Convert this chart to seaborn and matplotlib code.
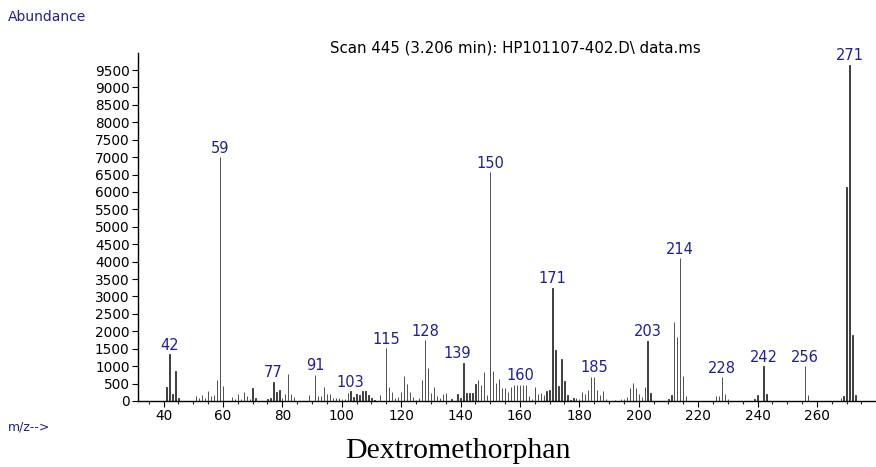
import matplotlib
matplotlib.use("Agg")
import matplotlib.pyplot as plt
import seaborn as sns
import numpy as np
import pandas as pd
from matplotlib.ticker import MultipleLocator

# ---- data (m/z and abundance) ----
mz = [41, 42, 43, 44, 45, 51, 52, 53, 54, 55, 56, 57, 58, 59, 60,
      63, 64, 65, 66, 67, 68, 69, 70, 71, 75, 76, 77, 78, 79, 80, 81, 82, 83, 84,
      89, 91, 92, 93, 94, 95, 96, 97, 98, 99, 100, 101, 102, 103, 104, 105, 106,
      107, 108, 109, 110, 111, 113, 115, 116, 117, 118, 119, 120, 121, 122, 123,
      124, 125, 126, 127, 128, 129, 130, 131, 132, 133, 134, 135, 137, 139, 140,
      141, 142, 143, 144, 145, 146, 147, 148, 149, 150, 151, 152, 153, 154, 155,
      156, 157, 158, 159, 160, 161, 162, 163, 164, 165, 166, 167, 168, 169, 170,
      171, 172, 173, 174, 175, 176, 177, 178, 179, 180, 181, 182, 183, 184, 185,
      186, 187, 188, 189, 192, 194, 195, 196, 197, 198, 199, 200, 201, 202, 203,
      204, 210, 211, 212, 213, 214, 215, 216, 226, 227, 228, 229, 230, 239, 240,
      242, 243, 256, 257, 268, 269, 270, 271, 272, 273]
abundance = [410, 1350, 200, 860, 80, 145, 90, 160, 100, 300, 145, 175, 600, 7000, 430,
             115, 70, 200, 50, 250, 145, 70, 380, 80, 50, 80, 550, 250, 310, 100, 200, 765, 200, 110,
             160, 760, 140, 140, 410, 200, 200, 80, 80, 80, 60, 50, 230, 280, 110, 200, 170,
             290, 290, 170, 90, 20, 170, 1510, 390, 260, 100, 120, 250, 720, 490, 250,
             115, 20, 90, 600, 1750, 940, 230, 390, 145, 80, 200, 230, 50, 200, 80,
             1100, 230, 230, 230, 490, 600, 450, 820, 160, 6570, 870, 520, 630, 380, 380,
             260, 410, 470, 470, 470, 470, 470, 145, 70, 400, 200, 230, 160, 290, 330,
             3250, 1460, 420, 1200, 560, 170, 30, 90, 100, 70, 270, 200, 330, 690, 700,
             320, 160, 290, 50, 20, 50, 60, 120, 380, 520, 360, 200, 120, 400, 1730,
             230, 60, 170, 2270, 1850, 4100, 720, 130, 130, 130, 690, 200, 50, 60, 160,
             1000, 200, 1000, 160, 80, 140, 6150, 9650, 1900, 170]
labeled_mz = [42, 59, 77, 91, 103, 115, 128, 139, 150, 160, 171, 185, 203, 214,
              228, 242, 256, 271]
y_ticks = list(range(0, 10000, 500))
x_ticks = list(range(40, 261, 20))

title_text = "Scan 445 (3.206 min): HP101107-402.D\\ data.ms"
caption = "Dextromethorphan"

df = pd.DataFrame({"mz": mz, "abundance": abundance})

sns.set_theme(style="white")
plt.rcParams["font.family"] = ["DejaVu Sans"]

W, H = 876, 467
fig = plt.figure(figsize=(W / 100, H / 100), dpi=100)
ax = fig.add_axes([138 / W, 1 - 401 / H, (W - 138) / W, (401 - 53) / H])

sns.barplot(data=df, x="mz", y="abundance", native_scale=True, width=0.1,
            color="#333333", saturation=1, errorbar=None, linewidth=0.6,
            edgecolor="#333333", ax=ax)

blue = "#1f1f9c"
lookup = dict(zip(mz, abundance))
for m in labeled_mz:
    top = max(v for k, v in lookup.items() if abs(k - m) <= 3)
    ax.annotate(str(m), xy=(m, top), xytext=(0, 1), textcoords="offset points",
                ha="center", va="bottom", fontsize=10.5, color=blue)

ax.set_xlim(31.4, 279.9)
ax.set_ylim(0, 9990)
ax.set_xticks(x_ticks)
ax.xaxis.set_minor_locator(MultipleLocator(5))
ax.set_yticks(y_ticks)
ax.set_xlabel("")
ax.set_ylabel("")
ax.tick_params(axis="both", which="major", labelsize=9.8, colors="black",
               length=4, width=0.8, direction="out", pad=2)
ax.tick_params(axis="x", which="minor", length=2.5, width=0.8, direction="out",
               bottom=True)
ax.tick_params(axis="y", left=True)
ax.tick_params(axis="x", bottom=True)

for s in ["top", "right"]:
    ax.spines[s].set_visible(False)
ax.spines["bottom"].set_color("black")
ax.spines["bottom"].set_linewidth(1.0)
ax.spines["left"].set_color("black")
ax.spines["left"].set_linewidth(1.0)
ax.spines["left"].set_linestyle((0, (1, 1)))
ax.grid(False)

fig.text(8 / W, 1 - 17 / H, "Abundance", color=blue, fontsize=10,
         ha="left", va="center")
fig.text(515 / W, 1 - 48 / H, title_text, color="black", fontsize=10.8,
         ha="center", va="center")
fig.text(8 / W, 1 - 427 / H, "m/z-->", color=blue, fontsize=9,
         ha="left", va="center")
fig.text(458 / W, 1 - 451 / H, caption, color="black", fontsize=21.5,
         ha="center", va="center", family=["Liberation Serif"])

fig.savefig("out.png", dpi=100, facecolor="white")
